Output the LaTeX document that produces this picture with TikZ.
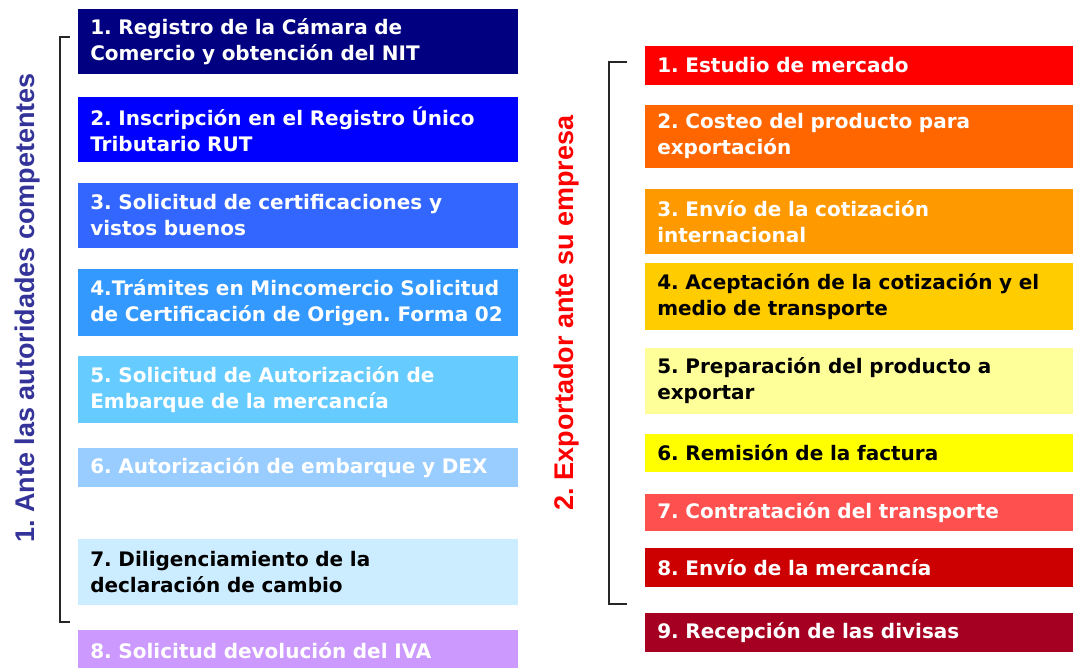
\documentclass[tikz,border=0pt]{standalone}
\usepackage{fontspec}
\setmainfont{DejaVu Sans}
\newfontfamily\labelfont{Liberation Sans}
\frenchspacing
\definecolor{azulA}{HTML}{000080}
\definecolor{azulB}{HTML}{0000FF}
\definecolor{azulC}{HTML}{3366FF}
\definecolor{azulD}{HTML}{3399FF}
\definecolor{azulE}{HTML}{66CCFF}
\definecolor{azulF}{HTML}{99CCFF}
\definecolor{azulG}{HTML}{CCECFF}
\definecolor{lila}{HTML}{CC99FF}
\definecolor{rojoA}{HTML}{FF0000}
\definecolor{naranjaA}{HTML}{FF6600}
\definecolor{naranjaB}{HTML}{FF9900}
\definecolor{oroA}{HTML}{FFCC00}
\definecolor{amarilloA}{HTML}{FFFF99}
\definecolor{amarilloB}{HTML}{FFFF00}
\definecolor{rojoB}{HTML}{FF5050}
\definecolor{rojoC}{HTML}{CC0000}
\definecolor{granate}{HTML}{A50021}
\definecolor{tituloazul}{HTML}{333399}
\begin{document}
\begin{tikzpicture}[x=1pt,y=-1pt,
  paso/.style={draw=white,line width=.5pt,anchor=north west,align=left,inner xsep=13pt,inner ysep=0pt,font=\fontsize{20}{26}\selectfont\bfseries},
  pasoizq/.style={paso,text width=415pt},
  pasoder/.style={paso,text width=403pt},
  titulo/.style={rotate=90,font=\labelfont\fontsize{27}{30}\selectfont\bfseries},
  llave/.style={line width=1.1pt,black!85}]
\useasboundingbox (0,0) rectangle (1073,667);
\node[pasoizq,fill=azulA,text=white,minimum height=66pt] (i1) at (77,8) {1. Registro de la Cámara de\\Comercio y obtención del NIT};
\node[pasoizq,fill=azulB,text=white,minimum height=66pt] (i2) at (77,96) {2. Inscripción en el Registro Único\\Tributario RUT};
\node[pasoizq,fill=azulC,text=white,minimum height=66pt] (i3) at (77,182) {3. Solicitud de certificaciones y\\vistos buenos};
\node[pasoizq,fill=azulD,text=white,minimum height=68pt] (i4) at (77,268) {4.Trámites en Mincomercio Solicitud\\de Certificación de Origen. Forma 02};
\node[pasoizq,fill=azulE,text=white,minimum height=68pt] (i5) at (77,355) {5. Solicitud de Autorización de\\Embarque de la mercancía};
\node[pasoizq,fill=azulF,text=white,minimum height=40pt] (i6) at (77,447) {6. Autorización de embarque y DEX};
\node[pasoizq,fill=azulG,text=black,minimum height=67pt] (i7) at (77,538) {7. Diligenciamiento de la\\declaración de cambio};
\node[pasoizq,fill=lila,text=white,minimum height=42pt] (i8) at (77,629) {8. Solicitud devolución del IVA};
\node[pasoder,fill=rojoA,text=white,minimum height=40pt] (d1) at (644,45) {1. Estudio de mercado};
\node[pasoder,fill=naranjaA,text=white,minimum height=64pt] (d2) at (644,104) {2. Costeo del producto para\\exportación};
\node[pasoder,fill=naranjaB,text=white,minimum height=66pt] (d3) at (644,188) {3. Envío de la cotización\\internacional};
\node[pasoder,fill=oroA,text=black,minimum height=68pt] (d4) at (644,262) {4. Aceptación de la cotización y el\\medio de transporte};
\node[pasoder,fill=amarilloA,text=black,minimum height=67pt] (d5) at (644,347) {5. Preparación del producto a\\exportar};
\node[pasoder,fill=amarilloB,text=black,minimum height=39pt] (d6) at (644,433) {6. Remisión de la factura};
\node[pasoder,fill=rojoB,text=white,minimum height=38pt] (d7) at (644,493) {7. Contratación del transporte};
\node[pasoder,fill=rojoC,text=white,minimum height=40pt] (d8) at (644,547) {8. Envío de la mercancía};
\node[pasoder,fill=granate,text=white,minimum height=40pt] (d9) at (644,612) {9. Recepción de las divisas};
\draw[llave] (70,37) -- (60,37) -- (60,622) -- (70,622);
\draw[llave] (627,62) -- (609,62) -- (609,604) -- (627,604);
\node[titulo,text=tituloazul] (tizq) at (28,308) {1. Ante las autoridades competentes};
\node[titulo,text=rojoA] (tder) at (567,313) {2. Exportador ante su empresa};
\end{tikzpicture}
\end{document}
